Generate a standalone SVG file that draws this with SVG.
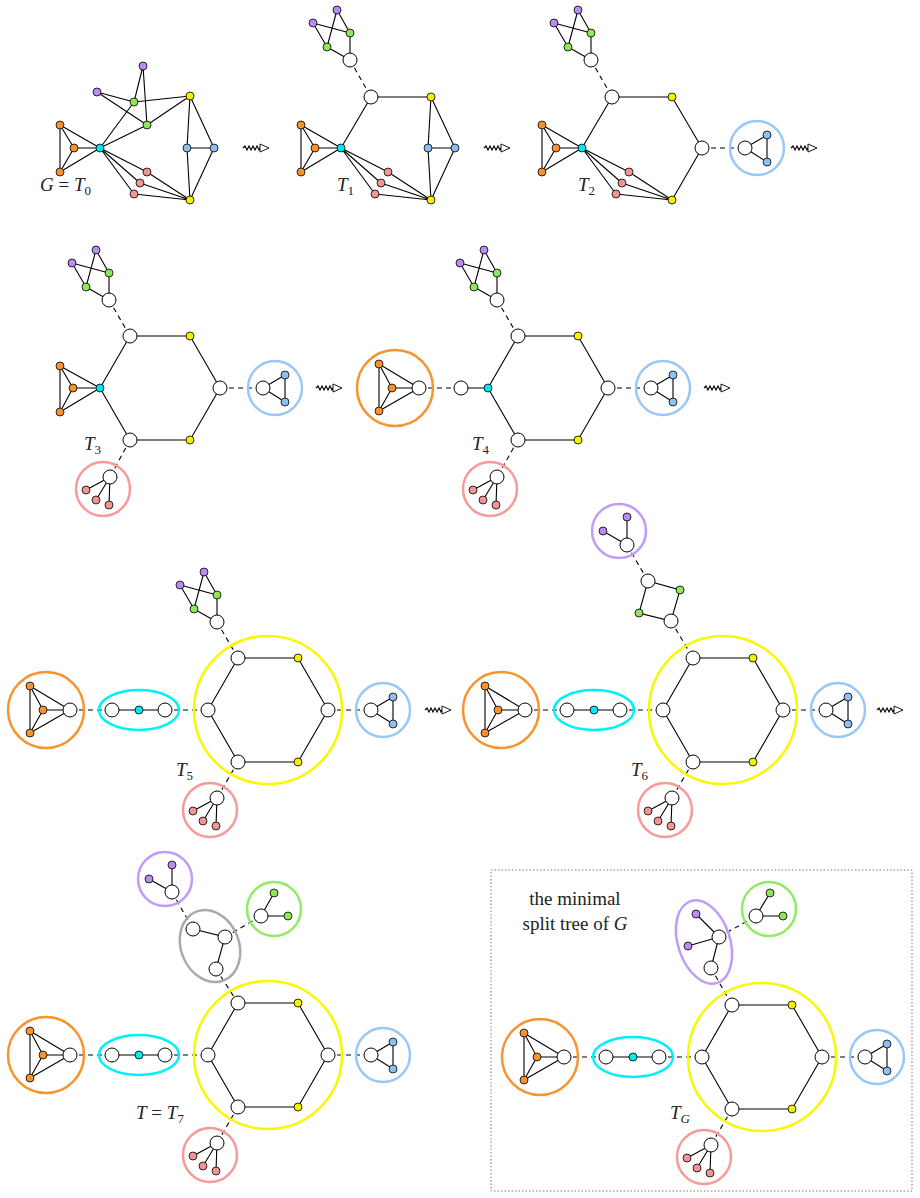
<svg xmlns="http://www.w3.org/2000/svg" xmlns:xlink="http://www.w3.org/1999/xlink" width="920" height="1198" viewBox="0 0 920 1198">
<style>
.e{stroke:#000;stroke-width:1.1;fill:none}
.d{stroke:#000;stroke-width:1.1;fill:none;stroke-dasharray:5,4}
.m{fill:#fff;stroke:#000;stroke-width:1}
.s{stroke:#000;stroke-width:0.8}
.o{fill:#f7922f}.c{fill:#00e8f0}.p{fill:#b98cf2}.g{fill:#8fe65a}.y{fill:#f5f000}.b{fill:#8fbff0}.r{fill:#f29494}
.ro{fill:none;stroke:#f7942f;stroke-width:2.5}.rc{fill:none;stroke:#00f0f8;stroke-width:2.5}.ry{fill:none;stroke:#f8f800;stroke-width:2.5}
.rb{fill:none;stroke:#99c8f8;stroke-width:2.5}.rr{fill:none;stroke:#f79a9a;stroke-width:2.5}.rp{fill:none;stroke:#c09cf8;stroke-width:2.5}
.rg{fill:none;stroke:#8fec66;stroke-width:2.5}.rk{fill:none;stroke:#aaa;stroke-width:2.5}
text{font-family:"Liberation Serif",serif;font-size:19px;fill:#222}
.i{font-style:italic}
</style>
<defs>
<g id="pgc">
<path class="e" d="M-13,-50L-23,-13M-13,-50L0,-27M-37,-37L0,-27M-37,-37L-23,-13M0,-27L0,0M-23,-13L0,0"/>
<circle class="p s" cx="-13" cy="-50" r="4"/><circle class="p s" cx="-37" cy="-37" r="4"/>
<circle class="g s" cx="0" cy="-27" r="4"/><circle class="g s" cx="-23" cy="-13" r="4"/>
<circle class="m" cx="0" cy="0" r="7"/>
</g>
<g id="blueR">
<circle class="rb" cx="0" cy="0" r="27"/>
<path class="e" d="M-12,0L10,-13L10,14Z"/>
<circle class="m" cx="-12" cy="0" r="7"/><circle class="b s" cx="10" cy="-13" r="4"/><circle class="b s" cx="10" cy="14" r="4"/>
</g>
<g id="pinkR">
<circle class="rr" cx="0" cy="0" r="27"/>
<path class="e" d="M7,-12L-17,1M7,-12L-7,11M7,-12L6,16"/>
<circle class="r s" cx="-17" cy="1" r="4"/><circle class="r s" cx="-7" cy="11" r="4"/><circle class="r s" cx="6" cy="16" r="4"/>
<circle class="m" cx="7" cy="-12" r="7"/>
</g>
<g id="orangeR">
<circle class="ro" cx="0" cy="0" r="38"/>
<path class="e" d="M-16,-24L-16,23M-16,-24L-3,0L-16,23M-16,-24L24,0M-3,0L24,0M-16,23L24,0"/>
<circle class="o s" cx="-16" cy="-24" r="4"/><circle class="o s" cx="-3" cy="0" r="4"/><circle class="o s" cx="-16" cy="23" r="4"/>
<circle class="m" cx="24" cy="0" r="7"/>
</g>
<g id="cyanE">
<ellipse class="rc" cx="0" cy="0" rx="40" ry="20"/>
<path class="e" d="M-27,0L26,0"/>
<circle class="m" cx="-27" cy="0" r="7"/><circle class="c s" cx="0" cy="0" r="4"/><circle class="m" cx="26" cy="0" r="7"/>
</g>
<g id="hexM">
<circle class="ry" cx="60" cy="0" r="74"/>
<path class="e" d="M0,0L30,-52L90,-52L120,0L90,52L30,52Z"/>
<circle class="m" cx="0" cy="0" r="7"/><circle class="m" cx="30" cy="-52" r="7"/><circle class="y s" cx="90" cy="-52" r="4"/>
<circle class="m" cx="120" cy="0" r="7"/><circle class="y s" cx="90" cy="52" r="4"/><circle class="m" cx="30" cy="52" r="7"/>
</g>
<g id="arr">
<path class="e" d="M0,0l2,-2l2,4l2,-4l2,4l2,-4l2,4l2,-4l2,4l1,-2h2" stroke-width="0.9"/>
<path d="M17,-4L26,0L17,4Z" fill="#fff" stroke="#000" stroke-width="0.9"/>
</g>
</defs>

<g id="connectors">
<path class="e" d="M60,125L60,172M60,125L74,148L60,172M60,125L100,148M74,148L100,148M60,172L100,148
M100,148L134,102M100,148L147,125M97,92L134,102M97,92L147,125M143,66L134,102M143,66L147,125M134,102L190,96M147,125L190,96
M100,148L147,172M100,148L140,183M100,148L134,194M147,172L190,200M140,183L190,200M134,194L190,200
M190,96L187,148M190,96L214,148M190,200L187,148M190,200L214,148M187,148L214,148"/>
<path class="e" d="M301,125L301,172M301,125L315,148L301,172M301,125L341,148M315,148L341,148M301,172L341,148
M341,148L371,97L431,97M341,148L388,172M341,148L381,183M341,148L375,194M388,172L431,200M381,183L431,200M375,194L431,200
M431,97L428,148M431,97L455,148M431,200L428,148M431,200L455,148M428,148L455,148"/>
<path class="d" d="M350,60L371,97"/>
<path class="e" d="M542,125L542,172M542,125L556,148L542,172M542,125L582,148M556,148L582,148M542,172L582,148
M582,148L612,97L672,97L702,148L672,200M582,148L629,172M582,148L622,183M582,148L616,194M629,172L672,200M622,183L672,200M616,194L672,200"/>
<path class="d" d="M591,60L612,97M702,148L745,148"/>
<path class="e" d="M60,366L60,412M60,366L73,388L60,412M60,366L100,388M73,388L100,388M60,412L100,388
M100,388L130,336L190,336L220,388L190,440L130,440Z"/>
<path class="d" d="M109,300L130,336M220,388L263,388M130,440L110,477"/>
<path class="e" d="M461,388L488,388M488,388L518,336L578,336L608,388L578,440L518,440Z"/>
<path class="d" d="M497,300L518,336M608,388L651,388M518,440L497,477M419,388L461,388"/>
<path class="d" d="M70,710L112,710M165,710L208,710M328,710L371,710M238,762L217,798M217,622L238,658"/>
<path class="e" d="M648,581L680,590L671,621L639,613Z"/>
<path class="d" d="M525,710L567,710M620,710L663,710M783,710L826,710M693,762L672,798M627,545L648,581M671,621L693,658"/>
<path class="e" d="M193,929L225,937L216,969"/>
<path class="d" d="M70,1055L112,1055M165,1055L208,1055M328,1055L371,1055M238,1107L217,1143M172,892L193,929M225,937L261,916M216,969L238,1003"/>
<path class="e" d="M696,914L719,937M688,946L719,937L711,968"/>
<path class="d" d="M564,1057L606,1057M659,1057L702,1057M822,1057L865,1057M732,1109L711,1145M719,937L756,916M711,968L732,1005"/>
</g>

<g id="G">
<circle class="o s" cx="60" cy="125" r="4"/><circle class="o s" cx="74" cy="148" r="4"/><circle class="o s" cx="60" cy="172" r="4"/>
<circle class="c s" cx="100" cy="148" r="4"/>
<circle class="p s" cx="143" cy="66" r="4"/><circle class="p s" cx="97" cy="92" r="4"/>
<circle class="g s" cx="134" cy="102" r="4"/><circle class="g s" cx="147" cy="125" r="4"/>
<circle class="y s" cx="190" cy="96" r="4"/><circle class="y s" cx="190" cy="200" r="4"/>
<circle class="b s" cx="187" cy="148" r="4"/><circle class="b s" cx="214" cy="148" r="4"/>
<circle class="r s" cx="147" cy="172" r="4"/><circle class="r s" cx="140" cy="183" r="4"/><circle class="r s" cx="134" cy="194" r="4"/>
<text x="40" y="191"><tspan class="i">G</tspan> = <tspan class="i">T</tspan><tspan font-size="13" dy="4">0</tspan></text>
</g>
<g id="T1">
<circle class="o s" cx="301" cy="125" r="4"/><circle class="o s" cx="315" cy="148" r="4"/><circle class="o s" cx="301" cy="172" r="4"/>
<circle class="c s" cx="341" cy="148" r="4"/>
<use href="#pgc" x="350" y="60"/><circle class="m" cx="371" cy="97" r="7"/>
<circle class="y s" cx="431" cy="97" r="4"/><circle class="y s" cx="431" cy="200" r="4"/>
<circle class="b s" cx="428" cy="148" r="4"/><circle class="b s" cx="455" cy="148" r="4"/>
<circle class="r s" cx="388" cy="172" r="4"/><circle class="r s" cx="381" cy="183" r="4"/><circle class="r s" cx="375" cy="194" r="4"/>
<text x="337" y="191" class="i">T<tspan font-size="13" dy="4" font-style="normal">1</tspan></text>
</g>
<g id="T2">
<circle class="o s" cx="542" cy="125" r="4"/><circle class="o s" cx="556" cy="148" r="4"/><circle class="o s" cx="542" cy="172" r="4"/>
<circle class="c s" cx="582" cy="148" r="4"/>
<use href="#pgc" x="591" y="60"/><circle class="m" cx="612" cy="97" r="7"/>
<circle class="y s" cx="672" cy="97" r="4"/><circle class="y s" cx="672" cy="200" r="4"/><circle class="m" cx="702" cy="148" r="7"/>
<circle class="r s" cx="629" cy="172" r="4"/><circle class="r s" cx="622" cy="183" r="4"/><circle class="r s" cx="616" cy="194" r="4"/>
<use href="#blueR" x="757" y="148"/>
<text x="578" y="191" class="i">T<tspan font-size="13" dy="4" font-style="normal">2</tspan></text>
</g>
<g id="T3">
<circle class="o s" cx="60" cy="366" r="4"/><circle class="o s" cx="73" cy="388" r="4"/><circle class="o s" cx="60" cy="412" r="4"/>
<circle class="c s" cx="100" cy="388" r="4"/>
<circle class="m" cx="130" cy="336" r="7"/><circle class="y s" cx="190" cy="336" r="4"/><circle class="m" cx="220" cy="388" r="7"/>
<circle class="y s" cx="190" cy="440" r="4"/><circle class="m" cx="130" cy="440" r="7"/>
<use href="#pgc" x="109" y="300"/><use href="#blueR" x="275" y="388"/><use href="#pinkR" x="103" y="489"/>
<text x="84" y="450" class="i">T<tspan font-size="13" dy="4" font-style="normal">3</tspan></text>
</g>
<g id="T4">
<use href="#orangeR" x="395" y="388"/><circle class="m" cx="461" cy="388" r="7"/>
<circle class="c s" cx="488" cy="388" r="4"/>
<circle class="m" cx="518" cy="336" r="7"/><circle class="y s" cx="578" cy="336" r="4"/><circle class="m" cx="608" cy="388" r="7"/>
<circle class="y s" cx="578" cy="440" r="4"/><circle class="m" cx="518" cy="440" r="7"/>
<use href="#pgc" x="497" y="300"/><use href="#blueR" x="663" y="388"/><use href="#pinkR" x="490" y="489"/>
<text x="472" y="450" class="i">T<tspan font-size="13" dy="4" font-style="normal">4</tspan></text>
</g>
<g id="T5">
<use href="#orangeR" x="46" y="710"/><use href="#cyanE" x="139" y="710"/><use href="#hexM" x="208" y="710"/>
<use href="#blueR" x="383" y="710"/><use href="#pinkR" x="210" y="810"/><use href="#pgc" x="217" y="622"/>
<text x="176" y="776" class="i">T<tspan font-size="13" dy="4" font-style="normal">5</tspan></text>
</g>
<g id="T6">
<use href="#orangeR" x="501" y="710"/><use href="#cyanE" x="594" y="710"/><use href="#hexM" x="663" y="710"/>
<use href="#blueR" x="838" y="710"/><use href="#pinkR" x="665" y="810"/>
<circle class="rp" cx="619" cy="531" r="27"/>
<path class="e" d="M627,545L603,531M627,545L627,517"/>
<circle class="p s" cx="603" cy="531" r="4"/><circle class="p s" cx="627" cy="517" r="4"/><circle class="m" cx="627" cy="545" r="7"/>
<circle class="m" cx="648" cy="581" r="7"/><circle class="g s" cx="680" cy="590" r="4"/><circle class="m" cx="671" cy="621" r="7"/><circle class="g s" cx="639" cy="613" r="4"/>
<text x="631" y="776" class="i">T<tspan font-size="13" dy="4" font-style="normal">6</tspan></text>
</g>
<g id="T7">
<use href="#orangeR" x="46" y="1055"/><use href="#cyanE" x="139" y="1055"/><use href="#hexM" x="208" y="1055"/>
<use href="#blueR" x="383" y="1055"/><use href="#pinkR" x="210" y="1155"/>
<circle class="rp" cx="165" cy="879" r="27"/>
<path class="e" d="M172,892L149,879M172,892L172,865"/>
<circle class="p s" cx="149" cy="879" r="4"/><circle class="p s" cx="172" cy="865" r="4"/><circle class="m" cx="172" cy="892" r="7"/>
<ellipse class="rk" cx="0" cy="0" rx="29" ry="37" transform="translate(210,946) rotate(-22)"/>
<circle class="m" cx="193" cy="929" r="7"/><circle class="m" cx="225" cy="937" r="7"/><circle class="m" cx="216" cy="969" r="7"/>
<circle class="rg" cx="274" cy="909" r="27"/>
<path class="e" d="M261,916L274,893M261,916L288,916"/>
<circle class="g s" cx="274" cy="893" r="4"/><circle class="g s" cx="288" cy="916" r="4"/><circle class="m" cx="261" cy="916" r="7"/>
<text x="136" y="1119"><tspan class="i">T</tspan> = <tspan class="i">T</tspan><tspan font-size="13" dy="4">7</tspan></text>
</g>
<g id="TG">
<rect x="491" y="870" width="421" height="321" fill="none" stroke="#555" stroke-width="0.8" stroke-dasharray="1.5,2"/>
<text x="575" y="905" text-anchor="middle">the minimal</text>
<text x="575" y="930" text-anchor="middle">split tree of <tspan class="i">G</tspan></text>
<use href="#orangeR" x="540" y="1057"/><use href="#cyanE" x="633" y="1057"/><use href="#hexM" x="702" y="1057"/>
<use href="#blueR" x="877" y="1057"/><use href="#pinkR" x="704" y="1157"/>
<ellipse class="rp" cx="0" cy="0" rx="26" ry="43" transform="translate(704,942) rotate(-18)"/>
<circle class="p s" cx="696" cy="914" r="4"/><circle class="p s" cx="688" cy="946" r="4"/>
<circle class="m" cx="719" cy="937" r="7"/><circle class="m" cx="711" cy="968" r="7"/>
<circle class="rg" cx="769" cy="909" r="27"/>
<path class="e" d="M756,916L770,893M756,916L783,916"/>
<circle class="g s" cx="770" cy="893" r="4"/><circle class="g s" cx="783" cy="916" r="4"/><circle class="m" cx="756" cy="916" r="7"/>
<text x="670" y="1119" class="i">T<tspan font-size="13" dy="4">G</tspan></text>
</g>
<g id="arrows">
<use href="#arr" x="243" y="148"/><use href="#arr" x="484" y="148"/><use href="#arr" x="791" y="148"/>
<use href="#arr" x="316" y="388"/><use href="#arr" x="704" y="388"/>
<use href="#arr" x="425" y="710"/><use href="#arr" x="877" y="710"/>
</g>
</svg>
